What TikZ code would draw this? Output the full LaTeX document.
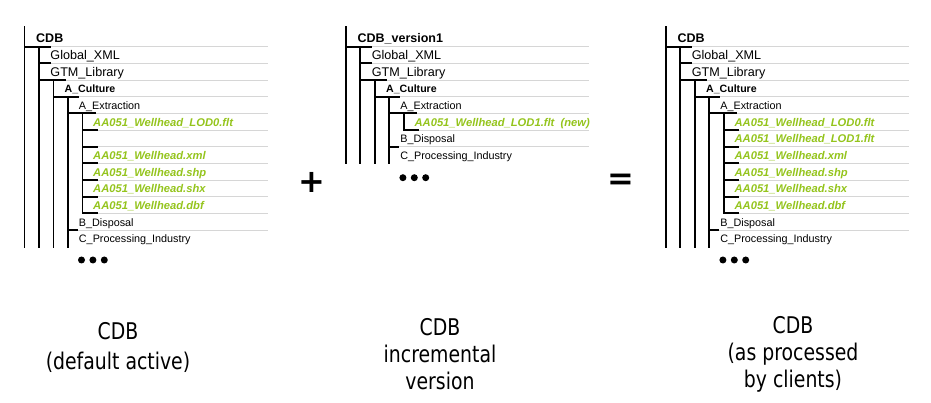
\documentclass[tikz,border=0pt]{standalone}
\usepackage{fontspec}
\setmainfont{Liberation Sans}
\newfontfamily\capfont[FakeStretch=0.82]{DejaVu Sans}
\newfontfamily\opfont{DejaVu Sans Bold}
\usetikzlibrary{positioning}
\definecolor{filegreen}{RGB}{148,196,28}
\definecolor{rulegray}{RGB}{214,214,214}
\tikzset{
  dirnode/.style={anchor=base west,inner sep=0pt,font=\fontsize{10.8}{12}\selectfont},
  rootdir/.style={dirnode,font=\fontsize{12.5}{14}\selectfont\bfseries},
  topdir/.style={dirnode,font=\fontsize{12.6}{14}\selectfont},
  bolddir/.style={dirnode,font=\fontsize{10.6}{12}\selectfont\bfseries},
  filenode/.style={dirnode,text=filegreen,font=\fontsize{11.2}{13}\selectfont\bfseries\itshape},
  treeline/.style={line width=1.9pt,line cap=rect},
  sepline/.style={rulegray,line width=0.9pt},
  morebullet/.style={circle,fill,inner sep=0pt,minimum size=7pt},
  capnode/.style={align=center,font=\capfont\fontsize{23}{27}\selectfont},
  opnode/.style={inner sep=0pt,font=\opfont\fontsize{32}{36}\selectfont}
}
\begin{document}
\begin{tikzpicture}[x=1pt,y=-1pt]
\useasboundingbox (0,0) rectangle (931,403);
% default active CDB and CDB as processed (same layout)
\foreach \dx/\tg/\six in {0/d/{},641.4/p/{AA051\_Wellhead\_LOD1.flt}}{
\begin{scope}[xshift=\dx pt]
\foreach \lvl/\txt/\sty [count=\r from 0] in {0/CDB/rootdir,1/Global\_XML/topdir,1/GTM\_Library/topdir,
    2/A\_Culture/bolddir,3/A\_Extraction/dirnode,4/AA051\_Wellhead\_LOD0.flt/filenode,4/\six/filenode,
    4/AA051\_Wellhead.xml/filenode,4/AA051\_Wellhead.shp/filenode,4/AA051\_Wellhead.shx/filenode,
    4/AA051\_Wellhead.dbf/filenode,3/B\_Disposal/dirnode,3/C\_Processing\_Industry/dirnode}
  \node[\sty] (\tg\r) at ({36+14.25*\lvl},{42.7+16.667*\r}) {\txt};
% row rules and branches
\foreach \r/\v/\e in {0/0/50,1/1/50,2/1/65,3/2/78,4/3/95,5/4/97,6/4/97,7/4/97,8/4/97,9/4/97,10/4/97,11/3/77}{
  \draw[sepline] ({24.5+14.5*\v},{46.7+16.667*\r}) -- (268,{46.7+16.667*\r});
  \draw[treeline] ({24.5+14.5*\v},{46.7+16.667*\r}) -- (\e,{46.7+16.667*\r});
}
\foreach \v/\a/\b in {0/26.7/246.7,1/46.7/246.7,2/80/246.7,3/96.7/246.7,4/113.3/213.3}
  \draw[treeline] ({24.5+14.5*\v},\a) -- ({24.5+14.5*\v},\b);
\foreach \i in {0,1,2}
  \node[morebullet] (\tg m\i) at ({81.5+11.4*\i},260) {};
\end{scope}
}
% incremental version
\begin{scope}[xshift=321.4pt]
\foreach \lvl/\txt/\sty [count=\r from 0] in {0/CDB\_version1/rootdir,1/Global\_XML/topdir,1/GTM\_Library/topdir,
    2/A\_Culture/bolddir,3/A\_Extraction/dirnode,4/AA051\_Wellhead\_LOD1.flt\ \ (new)/filenode,
    3/B\_Disposal/dirnode,3/C\_Processing\_Industry/dirnode}
  \node[\sty] (v\r) at ({36+14.25*\lvl},{42.7+16.667*\r}) {\txt};
\foreach \r/\v/\e in {0/0/50,1/1/50,2/1/65,3/2/78,4/3/95,5/4/97,6/3/77}{
  \draw[sepline] ({24.5+14.5*\v},{46.7+16.667*\r}) -- (268,{46.7+16.667*\r});
  \draw[treeline] ({24.5+14.5*\v},{46.7+16.667*\r}) -- (\e,{46.7+16.667*\r});
}
\foreach \v/\a/\b in {0/26.7/163.3,1/46.7/163.3,2/80/163.3,3/96.7/163.3,4/113.3/130}
  \draw[treeline] ({24.5+14.5*\v},\a) -- ({24.5+14.5*\v},\b);
\foreach \i in {0,1,2}
  \node[morebullet] (vm\i) at ({81.5+11.4*\i},177.7) {};
\end{scope}
\node[opnode] (plus) at (311.5,182.5) {+};
\node[opnode] (equals) at (620.5,182) {=};
\node[capnode] (capd) at (118,347) {CDB\\[3pt](default active)};
\node[capnode] (capv) at (440,354) {CDB\\incremental\\version};
\node[capnode] (capp) at (793,354) {CDB\\(as processed\\by clients)};
\end{tikzpicture}
\end{document}
